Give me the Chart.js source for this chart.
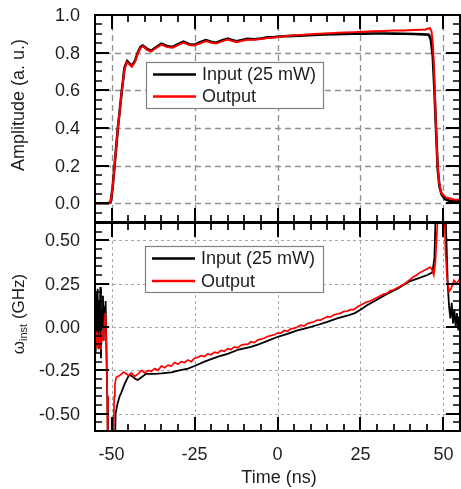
<!DOCTYPE html>
<html><head><meta charset="utf-8">
<script src="https://cdn.jsdelivr.net/npm/chart.js@4.4.1/dist/chart.umd.min.js"></script>
<style>
html,body{margin:0;padding:0;background:#fff;}
#wrap{position:relative;width:461px;height:489px;overflow:hidden;background:#fff;}
canvas{position:absolute;left:0;}
#c1{top:0;} #c2{top:222px;}
</style></head><body>
<div id="wrap"><canvas id="c2" width="461" height="267"></canvas><canvas id="c1" width="461" height="224"></canvas></div>
<script>
// ---------- DATA ----------
const seriesNames = ['Input (25 mW)', 'Output'];

// Amplitude, input (black)
const ampInT = [-55,-51,-50.3,-49.7,-49.1,-48.6,-48.1,-47.5,-46.9,-46.1,
  -45.3,-44.5,-43.9,-43,-42.1,-41.3,-40.6,-39.3,-38.1,-36.5,
  -35,-33.3,-31.6,-30,-28.3,-26.6,-25,-23.3,-21.6,-20,
  -18.5,-16.8,-15,-13.5,-12.3,-11,-9,-7,-5,-3,
  -1,1,3,5,8,11,14,17,20,23,
  26,29,32,35,38,41,44,45.6,46.2,46.8,
  47.3,47.8,48.3,48.8,49.5,50.5,52,55];
const ampIn = [0,0,0.005,0.08,0.2,0.3,0.4,0.5,0.6,0.72,
  0.755,0.74,0.73,0.755,0.8,0.83,0.838,0.82,0.81,0.83,
  0.848,0.835,0.83,0.845,0.858,0.845,0.842,0.855,0.867,0.858,
  0.853,0.865,0.875,0.866,0.86,0.866,0.874,0.871,0.875,0.881,
  0.883,0.886,0.888,0.889,0.891,0.894,0.896,0.898,0.899,0.9,
  0.901,0.902,0.902,0.901,0.9,0.899,0.897,0.895,0.87,0.78,
  0.6,0.38,0.18,0.09,0.045,0.022,0.012,0.01];

// Amplitude, output (red)
const ampOutT = [-55,-51,-50.3,-49.7,-49.1,-48.6,-48.1,-47.5,-46.9,-46.1,
  -45.3,-44.5,-43.9,-43,-42.1,-41.3,-40.6,-39.3,-38.1,-36.5,
  -35,-33.3,-31.6,-30,-28.3,-26.6,-25,-23.3,-21.6,-20,
  -18.5,-16.8,-15,-13.5,-12.3,-11,-9,-7,-5,-3,
  -1,1,3,5,8,11,14,17,20,23,
  26,29,32,35,38,41,43,44.5,45.3,45.9,
  46.4,46.8,47.2,47.7,48.2,48.7,49.3,50.7,53.2,55];
const ampOut = [0,0,0.005,0.08,0.2,0.3,0.4,0.5,0.6,0.715,
  0.75,0.735,0.725,0.75,0.795,0.825,0.834,0.815,0.806,0.826,
  0.843,0.83,0.826,0.84,0.853,0.84,0.838,0.85,0.862,0.853,
  0.849,0.86,0.87,0.861,0.856,0.862,0.869,0.868,0.872,0.878,
  0.881,0.885,0.889,0.892,0.895,0.899,0.902,0.905,0.907,0.909,
  0.911,0.913,0.915,0.917,0.918,0.92,0.921,0.922,0.928,0.93,
  0.915,0.85,0.71,0.44,0.215,0.11,0.057,0.03,0.02,0.018];

// Instantaneous frequency, input (black)
const omInT = [-55,-54.8,-54.6,-54.4,-54.2,-54,-53.8,-53.6,-53.4,-53.2,
  -53,-52.8,-52.6,-52.4,-52.2,-52,-51.8,-51.6,-51.3,-51.1,
  -49,-48.8,-48.3,-47.6,-47.1,-46.1,-45.1,-44.5,-43.8,-42.8,
  -42.1,-41,-39.6,-37,-35,-32,-29.6,-27,-25,-22,
  -20,-17.7,-15,-11.7,-8,-5.7,-3,0.3,3,6,
  9,12.3,15,18,21,23.3,25,27,30.2,33,
  36,40,43,45.2,46.7,47.3,47.8,50.5,50.9,51.3,
  51.7,52.1,52.5,52.9,53.3,53.7,54.1,54.5,54.8,55];
const omIn = [0.05,-0.15,0.2,-0.1,0.22,-0.12,0.15,-0.05,0.23,-0.18,
  0.1,0,0.18,-0.08,0.12,0.05,0.15,-0.1,-0.4,-0.75,
  -0.75,-0.5,-0.45,-0.4,-0.38,-0.33,-0.29,-0.275,-0.285,-0.3,
  -0.305,-0.29,-0.27,-0.27,-0.268,-0.262,-0.25,-0.24,-0.225,-0.2,
  -0.185,-0.17,-0.155,-0.13,-0.115,-0.1,-0.08,-0.055,-0.04,-0.02,
  -0.005,0.013,0.03,0.05,0.065,0.08,0.1,0.125,0.16,0.19,
  0.22,0.265,0.285,0.3,0.315,0.4,0.75,0.75,0.5,0.25,
  0.12,0.05,0.14,0.02,0.1,0,0.08,-0.02,0.06,0.03];

// Instantaneous frequency, output (red)
const omOutT = [-55,-54.8,-54.6,-54.3,-54,-53.6,-53.2,-52.9,-52.5,-52.2,
  -51.9,-51.6,-51.3,-51.1,-49.6,-49.2,-49,-48.6,-47.6,-46.4,
  -45.6,-44.9,-44,-43,-42,-41,-40,-39,-38,-37,
  -36,-35,-34,-33,-32,-31,-30,-29,-28,-27,
  -26,-25,-24,-23,-22,-21,-20,-19,-18,-17,
  -16,-15,-14,-13,-12,-11,-10,-9,-8,-7,
  -6,-5,-4,-3,-2,-1,0,1,2,3,
  4,5,6,7,8,9,10,11,12,13,
  14,15,16,17,18,19,20,21,22,23,
  24,25,26,27,28,29,30,31,32,33,
  34,35,36,37,38,39,40,41,42,43,
  44,45,46,46.6,47.1,47.6,48.2,48.6,50.2,50.6,
  51.1,51.7,52.3,53.2,54,55];
const omOut = [-0.1,-0.02,-0.12,-0.03,-0.1,-0.05,-0.13,-0.02,-0.08,0.02,
  0.08,-0.05,-0.4,-0.75,-0.75,-0.4,-0.33,-0.29,-0.28,-0.26,
  -0.27,-0.28,-0.265,-0.285,-0.27,-0.25,-0.265,-0.25,-0.255,-0.24,
  -0.25,-0.225,-0.235,-0.22,-0.225,-0.205,-0.215,-0.2,-0.205,-0.19,
  -0.2,-0.18,-0.175,-0.165,-0.17,-0.155,-0.16,-0.145,-0.15,-0.135,
  -0.14,-0.125,-0.13,-0.115,-0.12,-0.105,-0.1,-0.1,-0.085,-0.09,
  -0.075,-0.07,-0.065,-0.055,-0.05,-0.045,-0.035,-0.035,-0.02,-0.025,
  -0.01,-0.008,0,0.01,0.005,0.02,0.025,0.03,0.04,0.04,
  0.05,0.06,0.058,0.07,0.075,0.08,0.09,0.092,0.1,0.1,
  0.115,0.125,0.135,0.145,0.15,0.16,0.17,0.18,0.19,0.195,
  0.21,0.215,0.225,0.235,0.245,0.26,0.275,0.29,0.3,0.315,
  0.325,0.335,0.345,0.33,0.3,0.38,0.6,0.75,0.75,0.45,
  0.28,0.205,0.22,0.27,0.25,0.28];

// Ticks
const timeTicks = [-50, -25, 0, 25, 50];
const timeTickLabels = ['-50', '-25', '0', '25', '50'];
const ampTicks = [0, 0.2, 0.4, 0.6, 0.8, 1.0];
const ampTickLabels = ['0.0', '0.2', '0.4', '0.6', '0.8', '1.0'];
const omTicks = [-0.5, -0.25, 0, 0.25, 0.5];
const omTickLabels = ['-0.50', '-0.25', '0.00', '0.25', '0.50'];

// ---------- DRAWING ----------
const FONT = "'Liberation Sans', Arial, Helvetica, sans-serif";
const TXT = '#1e1e1e';
const pts = (t, v) => t.map((x, i) => ({x: x, y: v[i]}));

function drawTicks(ctx, scale, a, horizontal, majors, minorStep) {
  const k0 = Math.ceil(scale.min / minorStep - 1e-9), k1 = Math.floor(scale.max / minorStep + 1e-9);
  ctx.strokeStyle = '#000';
  for (let k = k0; k <= k1; k++) {
    const v = k * minorStep;
    const major = majors.some(m => Math.abs(m - v) < 1e-6);
    const len = major ? 14 : 7;
    ctx.lineWidth = major ? 2 : 1.7;
    const p = Math.round(scale.getPixelForValue(v));
    ctx.beginPath();
    if (horizontal) {
      ctx.moveTo(p, a.bottom); ctx.lineTo(p, a.bottom - len);
      ctx.moveTo(p, a.top); ctx.lineTo(p, a.top + len);
    } else {
      ctx.moveTo(a.left, p); ctx.lineTo(a.left + len, p);
      ctx.moveTo(a.right, p); ctx.lineTo(a.right - len, p);
    }
    ctx.stroke();
  }
}

const panelPlugin = {
  id: 'panel',
  beforeDatasetsDraw(chart, args, o) {
    const {ctx, chartArea: a} = chart;
    const x = chart.scales.x, y = chart.scales.y;
    ctx.save();
    ctx.strokeStyle = o.gridColor; ctx.lineWidth = o.gridWidth; ctx.setLineDash(o.gridDash);
    o.xMajor.forEach(v => {
      const p = Math.round(x.getPixelForValue(v)) + 0.5;
      ctx.beginPath(); ctx.moveTo(p, a.top); ctx.lineTo(p, a.bottom); ctx.stroke();
    });
    o.yMajor.forEach(v => {
      const p = Math.round(y.getPixelForValue(v)) + 0.5;
      if (p < a.top + 2 || p > a.bottom - 2) return;
      ctx.beginPath(); ctx.moveTo(a.left, p); ctx.lineTo(a.right, p); ctx.stroke();
    });
    ctx.restore();
  },
  afterDatasetsDraw(chart, args, o) {
    const {ctx, chartArea: a} = chart;
    const x = chart.scales.x, y = chart.scales.y;
    ctx.save();
    // ticks
    drawTicks(ctx, x, a, true, o.xMajor, o.xMinor);
    drawTicks(ctx, y, a, false, o.yMajor, o.yMinor);
    // frame
    ctx.strokeStyle = '#000'; ctx.lineWidth = 2;
    ctx.strokeRect(a.left, a.top, a.right - a.left, a.bottom - a.top);
    // y tick labels
    ctx.fillStyle = TXT; ctx.font = o.tickFont + 'px ' + FONT;
    ctx.textAlign = 'right'; ctx.textBaseline = 'middle';
    o.yMajor.forEach((v, i) => ctx.fillText(o.yLabels[i], a.left - o.yLabelGap, y.getPixelForValue(v) + 1));
    if (o.xLabels) {
      ctx.textAlign = 'center';
      o.xMajor.forEach((v, i) => ctx.fillText(o.xLabels[i], x.getPixelForValue(v), a.bottom + o.xLabelGap));
    }
    // legend
    const L = o.legend;
    ctx.fillStyle = '#fff'; ctx.fillRect(L.x, L.y, L.w, L.h);
    ctx.strokeStyle = '#808080'; ctx.lineWidth = 1.2;
    ctx.strokeRect(L.x + 0.5, L.y + 0.5, L.w, L.h);
    chart.data.datasets.forEach((ds, i) => {
      const yy = L.y + L.row0 + i * L.gap;
      ctx.strokeStyle = ds.borderColor; ctx.lineWidth = 2.4;
      ctx.beginPath(); ctx.moveTo(L.x + 7, yy); ctx.lineTo(L.x + 50, yy); ctx.stroke();
      ctx.fillStyle = TXT; ctx.font = '18px ' + FONT; ctx.textAlign = 'left'; ctx.textBaseline = 'middle';
      ctx.fillText(ds.label, L.x + 56, yy + 1);
    });
    // titles
    if (o.drawTitles) o.drawTitles(ctx, a);
    ctx.restore();
  }
};

function baseOptions(xmin, xmax, ymin, ymax, padding, panel) {
  return {
    responsive: false, animation: false, devicePixelRatio: 1,
    layout: {padding: padding},
    scales: {
      x: {type: 'linear', min: xmin, max: xmax, display: false},
      y: {type: 'linear', min: ymin, max: ymax, display: false}
    },
    elements: {point: {radius: 0}, line: {tension: 0}},
    plugins: {legend: {display: false}, tooltip: {enabled: false}, panel: panel}
  };
}

// Top: amplitude
new Chart(document.getElementById('c1'), {
  type: 'line',
  data: {datasets: [
    {label: seriesNames[0], data: pts(ampInT, ampIn), borderColor: '#000', borderWidth: 2.6, order: 2, pointRadius: 0},
    {label: seriesNames[1], data: pts(ampOutT, ampOut), borderColor: '#ff0000', borderWidth: 2, order: 1, pointRadius: 0}
  ]},
  options: baseOptions(-55, 55, -0.1, 1.0, {left: 95, right: 1, top: 15, bottom: 2}, {
    xMajor: timeTicks, xMinor: 5, yMajor: ampTicks, yMinor: 0.05,
    yLabels: ampTickLabels, yLabelGap: 15, tickFont: 18,
    gridColor: '#8f8f8f', gridWidth: 1.3, gridDash: [6, 4],
    legend: {x: 146, y: 62, w: 177, h: 46, row0: 12.5, gap: 22},
    drawTitles(ctx, a) {
      ctx.save();
      ctx.translate(19, 105); ctx.rotate(-Math.PI / 2);
      ctx.font = '18px ' + FONT; ctx.fillStyle = TXT; ctx.textAlign = 'center'; ctx.textBaseline = 'middle';
      ctx.fillText('Amplitude (a. u.)', 0, 0);
      ctx.restore();
    }
  }),
  plugins: [panelPlugin]
});

// Bottom: instantaneous frequency
new Chart(document.getElementById('c2'), {
  type: 'line',
  data: {datasets: [
    {label: seriesNames[0], data: pts(omInT, omIn), borderColor: '#000', borderWidth: 1.8, order: 2, pointRadius: 0},
    {label: seriesNames[1], data: pts(omOutT, omOut), borderColor: '#ff0000', borderWidth: 1.7, order: 1, pointRadius: 0}
  ]},
  options: baseOptions(-55, 55, -0.6, 0.6, {left: 95, right: 1, top: 1, bottom: 58}, {
    xMajor: timeTicks, xMinor: 5, yMajor: omTicks, yMinor: 0.05,
    yLabels: omTickLabels, yLabelGap: 15, tickFont: 18,
    xLabels: timeTickLabels, xLabelGap: 24,
    gridColor: '#a8a8a8', gridWidth: 1, gridDash: [3, 3],
    legend: {x: 145, y: 24, w: 178, h: 46, row0: 12.5, gap: 22.5},
    drawTitles(ctx, a) {
      ctx.save();
      ctx.fillStyle = TXT; ctx.textBaseline = 'middle';
      ctx.font = '18px ' + FONT; ctx.textAlign = 'center';
      ctx.fillText('Time (ns)', 279, 256);
      ctx.translate(20, 92); ctx.rotate(-Math.PI / 2);
      ctx.textAlign = 'left';
      const f1 = '17px ' + FONT, f2 = '11px ' + FONT;
      ctx.font = f1; const w1 = ctx.measureText('\u03c9').width;
      ctx.font = f2; const w2 = ctx.measureText('inst').width;
      ctx.font = f1; const w3 = ctx.measureText(' (GHz)').width;
      let s = -(w1 + w2 + w3) / 2;
      ctx.font = f1; ctx.fillText('\u03c9', s, -1); s += w1;
      ctx.font = f2; ctx.fillText('inst', s, 4); s += w2;
      ctx.font = f1; ctx.fillText(' (GHz)', s, -1);
      ctx.restore();
    }
  }),
  plugins: [panelPlugin]
});
</script></body></html>
